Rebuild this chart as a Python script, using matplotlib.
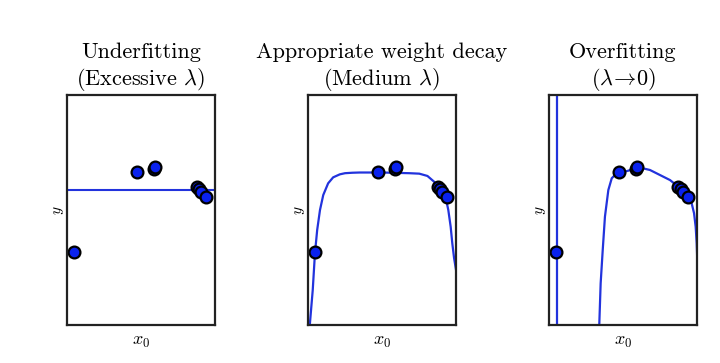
import matplotlib
matplotlib.use('Agg')
import matplotlib.pyplot as plt

plt.rcParams['font.family'] = 'serif'
plt.rcParams['font.serif'] = ['cmr10', 'DejaVu Serif']
plt.rcParams['mathtext.fontset'] = 'cm'
plt.rcParams['axes.unicode_minus'] = False

# training points (same in every panel)
pts_x = [0.048, 0.476, 0.585, 0.595, 0.875, 0.89, 0.905, 0.94]
pts_y = [0.317, 0.665, 0.680, 0.685, 0.600, 0.590, 0.580, 0.557]

# underfitting: constant model
under_x = [0.0, 1.0]
under_y = [0.587, 0.587]

# appropriate fit
medium_x = [0.005, 0.013, 0.032, 0.047, 0.062, 0.081, 0.103, 0.136, 0.17,
            0.215, 0.25, 0.3, 0.349, 0.5, 0.685, 0.752, 0.807, 0.852, 0.897,
            0.931, 0.948, 0.964, 0.975, 0.987, 1.0]
medium_y = [-0.02, 0.007, 0.152, 0.312, 0.413, 0.5, 0.565, 0.616, 0.642,
            0.655, 0.66, 0.662, 0.663, 0.663, 0.66, 0.658, 0.648, 0.623, 0.587,
            0.551, 0.5, 0.427, 0.355, 0.291, 0.24]

# overfitting
over_x = [0.337, 0.34, 0.349, 0.363, 0.378, 0.401, 0.424, 0.457, 0.484,
          0.536, 0.603, 0.682, 0.75, 0.818, 0.874, 0.93, 0.964, 0.98,
          0.991, 0.998, 1.002]
over_y = [-0.05, 0.007, 0.181, 0.326, 0.471, 0.587, 0.638, 0.66, 0.662,
          0.671, 0.686, 0.674, 0.652, 0.63, 0.601, 0.565, 0.529, 0.486,
          0.427, 0.355, 0.28]
spike_x = [0.054, 0.054]
spike_y = [-0.1, 1.1]

titles = ['Underfitting\n(Excessive $\\lambda$)',
          'Appropriate weight decay\n(Medium $\\lambda$)',
          'Overfitting\n($\\lambda\\!\\rightarrow\\!0$)']
lefts = [67, 308, 549]

line_c = '#2233dd'
dot_c = '#0a22ee'

fig = plt.figure(figsize=(7.2, 3.63), dpi=100)
axes = []
for l in lefts:
    ax = fig.add_axes([l / 720, 38 / 363, 148 / 720, 230 / 363])
    axes.append(ax)

axes[0].plot(under_x, under_y, color=line_c, lw=1.5)
axes[1].plot(medium_x, medium_y, color=line_c, lw=1.6)
axes[2].plot(over_x, over_y, color=line_c, lw=1.6)
axes[2].plot(spike_x, spike_y, color=line_c, lw=1.6)

for ax, t in zip(axes, titles):
    ax.plot(pts_x, pts_y, 'o', color=dot_c, markersize=8.5,
            markeredgecolor='black', markeredgewidth=1.6)
    ax.set_xlim(0, 1)
    ax.set_ylim(0, 1)
    ax.set_xticks([])
    ax.set_yticks([])
    for s in ax.spines.values():
        s.set_linewidth(1.6)
        s.set_color('#222222')
    ax.set_title(t, fontsize=16, linespacing=1.2, pad=7)
    ax.set_xlabel('$x_0$', fontsize=13, labelpad=7)
    ax.set_ylabel('$y$', fontsize=11, labelpad=1)

fig.savefig('out.png', dpi=100)
